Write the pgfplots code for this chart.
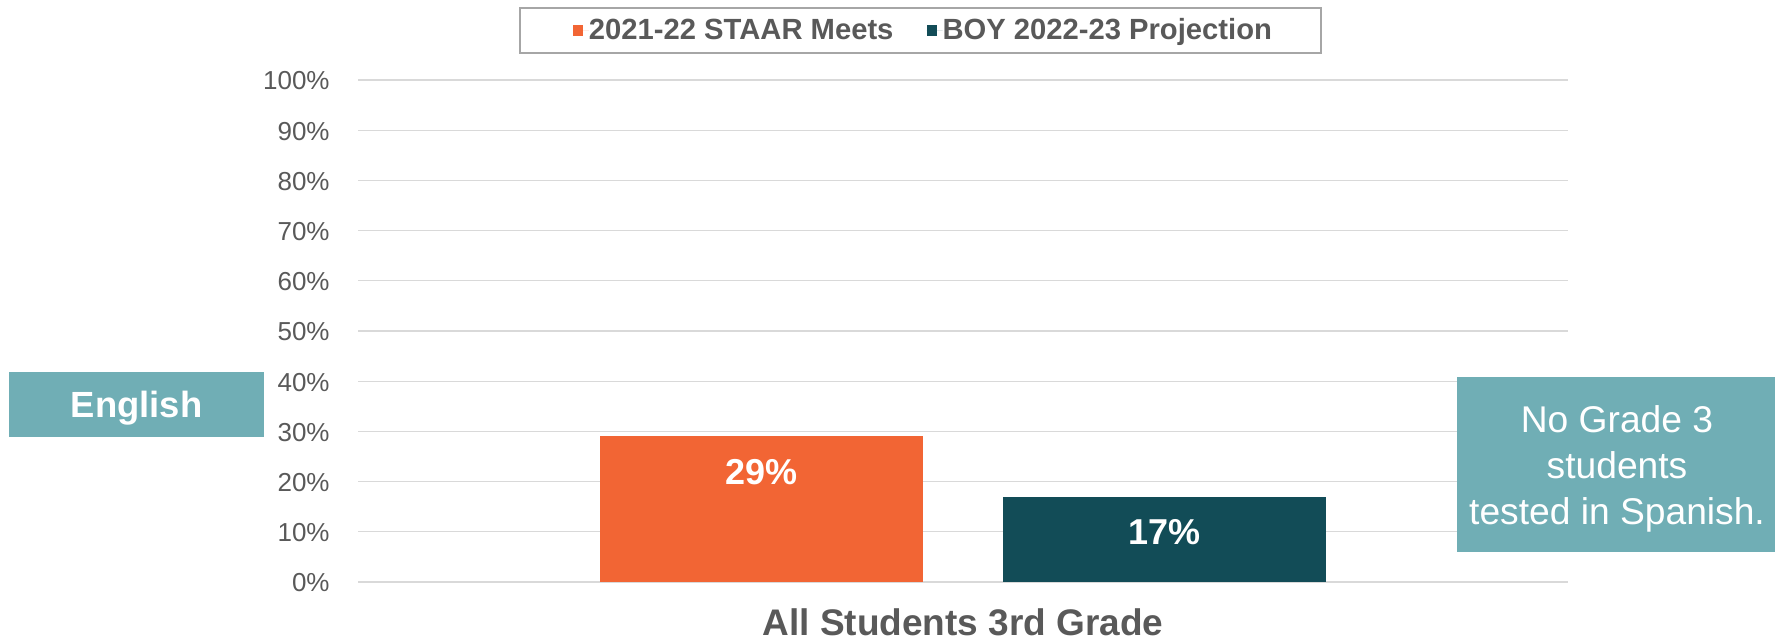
\documentclass[border=0pt]{standalone}
\usepackage{pgfplots}
\pgfplotsset{compat=1.18}
\usepackage{fontspec}
\setmainfont{Liberation Sans}
\definecolor{cOrange}{HTML}{F26534}
\definecolor{cTeal}{HTML}{124C57}
\definecolor{cBox}{HTML}{70AEB5}
\definecolor{cText}{HTML}{595959}
\definecolor{cGrid}{HTML}{D9D9D9}
\definecolor{cLegBorder}{HTML}{A6A6A6}
\begin{document}
\begin{tikzpicture}
\path (0pt,0pt) rectangle (887.5pt,320.5pt);
\begin{axis}[
  at={(179pt,29.5pt)}, anchor=south west,
  scale only axis, width=605pt, height=251pt,
  xmin=-0.5, xmax=0.5, ymin=0, ymax=100,
  axis line style={draw=none},
  major tick length=0pt,
  ytick={0,10,...,100},
  yticklabel={\pgfmathprintnumber{\tick}\%},
  yticklabel style={font=\fontsize{13}{15}\selectfont, text=cText, anchor=east, inner sep=0pt, xshift=-14pt, yshift=-0.5pt},
  /pgf/number format/assume math mode=true,
  ymajorgrids, grid style={cGrid, line width=0.6pt},
  xtick={0}, xticklabels={All Students 3rd Grade},
  xticklabel style={font=\bfseries\fontsize{18.5}{22}\selectfont, text=cText, anchor=center, inner sep=0pt, yshift=-20.3pt},
  ybar, bar width=0.267,
  nodes near coords={\pgfmathprintnumber{\pgfplotspointmeta}\%},
  every node near coord/.append style={font=\bfseries\fontsize{18}{21}\selectfont, text=white, anchor=center, yshift=-17.6pt},
  legend columns=2,
  legend style={draw=none, fill=none, at={(0.4665,1.0986)}, anchor=center,
    font=\bfseries\fontsize{14.6}{16}\selectfont, text=cText,
    nodes={inner xsep=0pt, inner ysep=2pt},
    /tikz/every even column/.append style={column sep=16.5pt}},
]
\addplot[fill=cOrange, draw=none, bar shift=0pt,
  legend image code/.code={\fill[cOrange] (0pt,-2.6pt) rectangle (5.2pt,2.6pt); \path (0pt,0pt) -- (8pt,0pt);}]
  coordinates {(-0.1667,29)};
\addlegendentry{2021-22 STAAR Meets}
\addplot[fill=cTeal, draw=none, bar shift=0pt,
  legend image code/.code={\fill[cTeal] (0pt,-2.6pt) rectangle (5.2pt,2.6pt); \path (0pt,0pt) -- (8pt,0pt);}]
  coordinates {(0.1667,17)};
\addlegendentry{BOY 2022-23 Projection}
\end{axis}
\draw[cLegBorder, line width=0.75pt] (260pt,294pt) rectangle (660.5pt,316.5pt);
\node[fill=cBox, minimum width=127.5pt, minimum height=32.5pt, inner sep=0pt, text depth=0pt,
  text=white, font=\bfseries\fontsize{18.2}{21}\selectfont] at (68.25pt,118.25pt) {English};
\fill[cBox] (728.5pt,44.5pt) rectangle (887.5pt,132pt);
\node[inner sep=0pt, text=white, align=center, font=\fontsize{18.6}{23}\selectfont] at (808.5pt,86.3pt)
  {No Grade 3\\students\\tested in Spanish.};
\end{tikzpicture}
\end{document}
